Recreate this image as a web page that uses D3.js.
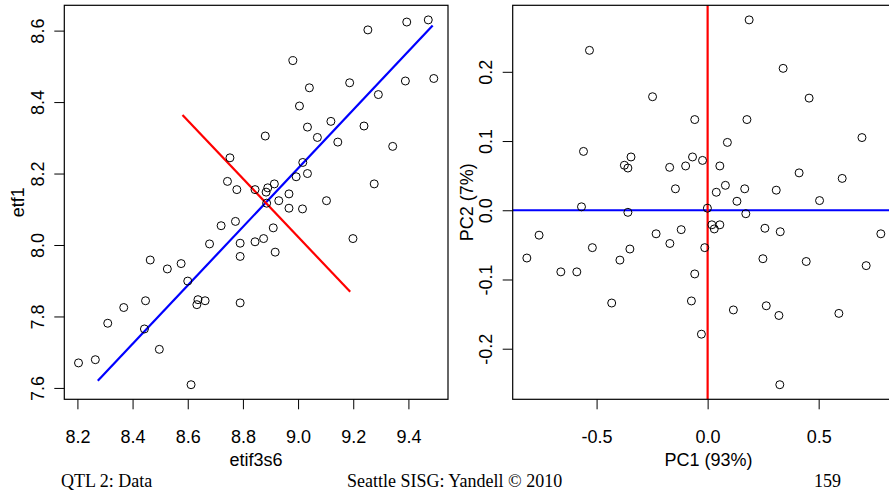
<!DOCTYPE html>
<html>
<head>
<meta charset="utf-8">
<script src="https://cdn.jsdelivr.net/npm/d3@7"></script>
<style>
  body { margin: 0; background: #fff; }
  svg { display: block; }
  text { font-family: "Liberation Sans", Arial, sans-serif; }
</style>
</head>
<body>
<script>
// raw data: etif3s6 vs etf1
var etif3s6 = [9.472, 9.394, 9.253, 8.981, 9.187, 9.389, 9.492, 9.041, 9.291, 9.005,
  9.119, 9.034, 9.239, 8.881, 9.070, 9.144, 9.343, 8.753, 9.017, 8.993,
  9.034, 9.276, 8.744, 8.778, 8.844, 8.890, 8.914, 8.884, 8.886, 8.930,
  8.967, 9.103, 8.967, 9.016, 8.773, 8.721, 8.910, 8.679, 8.790, 8.844,
  8.875, 8.790, 8.917, 9.199, 8.464, 8.576, 8.526, 8.600, 8.368, 8.447,
  8.637, 8.633, 8.663, 8.790, 8.310, 8.443, 8.497, 8.204, 8.265, 8.612];
var etf1 = [8.630, 8.624, 8.602, 8.516, 8.454, 8.459, 8.466, 8.440, 8.421, 8.389,
  8.346, 8.330, 8.333, 8.305, 8.301, 8.288, 8.276, 8.244, 8.231, 8.191,
  8.200, 8.171, 8.178, 8.155, 8.155, 8.160, 8.171, 8.148, 8.117, 8.124,
  8.143, 8.124, 8.103, 8.101, 8.066, 8.054, 8.048, 8.003, 8.005, 8.009,
  8.018, 7.968, 7.980, 8.018, 7.958, 7.948, 7.933, 7.899, 7.825, 7.844,
  7.847, 7.833, 7.844, 7.838, 7.781, 7.765, 7.708, 7.670, 7.679, 7.609];

// principal axes drawn on the raw data
var pc1Seg = [[8.274, 7.620], [9.488, 8.614]];
var pc2Seg = [[8.581, 8.364], [9.189, 7.869]];

// PC scores
var pc1 = [-0.532, -0.248, -0.559, -0.375, -0.359, -0.345, -0.171, -0.099, -0.145, -0.568,
  -0.359, 0.187, 0.340, 0.457, -0.058, 0.177, 0.695, 0.089, -0.068, -0.023,
  0.055, 0.412, 0.606, 0.039, 0.080, 0.167, 0.309, 0.132, 0.504, -0.001,
  0.172, -0.814, -0.759, -0.661, -0.589, -0.519, -0.395, -0.350, -0.432, -0.232,
  -0.170, -0.119, 0.019, 0.030, 0.055, 0.258, 0.327, 0.780, -0.013, 0.249,
  0.444, 0.714, -0.058, -0.073, 0.116, 0.264, 0.321, 0.591, -0.028, 0.325];
var pc2 = [0.231, 0.164, 0.085, 0.065, 0.061, 0.077, 0.062, 0.064, 0.031, 0.005,
  -0.003, 0.275, 0.205, 0.162, 0.131, 0.131, 0.105, 0.098, 0.077, 0.072,
  0.064, 0.054, 0.046, 0.026, 0.036, 0.031, 0.029, 0.013, 0.014, 0.003,
  -0.005, -0.069, -0.036, -0.089, -0.089, -0.054, -0.072, -0.056, -0.134, -0.034,
  -0.048, -0.028, -0.021, -0.027, -0.021, -0.026, -0.031, -0.034, -0.054, -0.070,
  -0.074, -0.080, -0.092, -0.131, -0.144, -0.138, -0.152, -0.149, -0.179, -0.252];

var leftXTicks = [8.2, 8.4, 8.6, 8.8, 9.0, 9.2, 9.4];
var leftYTicks = [7.6, 7.8, 8.0, 8.2, 8.4, 8.6];
var rightXTicks = [-0.5, 0.0, 0.5];
var rightYTicks = [-0.2, -0.1, 0.0, 0.1, 0.2];

var width = 889,
  height = 493;

var svg = d3.select('body').append("svg")
  .attr("width", width)
  .attr("height", height);

// R style range: data extent padded 4% each side
function rRange(v) {
  var e = d3.extent(v), pad = (e[1] - e[0]) * 0.04;
  return [e[0] - pad, e[1] + pad];
}

function fmt(d) {
  return d3.format(".1f")(d).replace("−", "-");
}

function panel(opt) {
  var x = d3.scaleLinear().domain(rRange(opt.xs)).range([opt.left, opt.right]);
  var y = d3.scaleLinear().domain(rRange(opt.ys)).range([opt.bottom, opt.top]);

  var g = svg.append("g");

  // lines first, points on top
  opt.lines(g, x, y);

  g.selectAll("circle.pt")
    .data(opt.xs)
    .enter().append("circle")
    .attr("class", "pt")
    .attr("cx", function(d) { return x(d); })
    .attr("cy", function(d, i) { return y(opt.ys[i]); })
    .attr("r", 4)
    .style("fill", "none")
    .style("stroke", "black")
    .style("stroke-width", "1px");

  g.append("rect")
    .attr("x", opt.left)
    .attr("y", opt.top)
    .attr("width", opt.right - opt.left)
    .attr("height", opt.bottom - opt.top)
    .style("fill", "none")
    .style("stroke", "black")
    .style("stroke-width", "1.2px");

  var xAxis = d3.axisBottom(x)
    .tickValues(opt.xTicks)
    .tickSize(10)
    .tickSizeOuter(0)
    .tickFormat(fmt);

  var gx = g.append("g")
    .attr("transform", "translate(0," + opt.bottom + ")")
    .call(xAxis);
  gx.select(".domain").remove();
  gx.selectAll("line").style("stroke", "black");
  gx.selectAll("text")
    .attr("y", 44)
    .attr("dy", 0)
    .style("font-size", "18px")
    .style("fill", "black");

  var yAxis = d3.axisLeft(y)
    .tickValues(opt.yTicks)
    .tickSize(10)
    .tickSizeOuter(0)
    .tickFormat(fmt);

  var gy = g.append("g")
    .attr("transform", "translate(" + opt.left + ",0)")
    .call(yAxis);
  gy.select(".domain").remove();
  gy.selectAll("line").style("stroke", "black");
  gy.selectAll("text")
    .attr("x", 0)
    .attr("dy", 0)
    .attr("transform", "translate(-20.5,0) rotate(-90)")
    .style("text-anchor", "middle")
    .style("font-size", "18px")
    .style("fill", "black");

  // axis titles
  g.append("text")
    .attr("x", opt.xTitleX)
    .attr("y", 466)
    .style("text-anchor", "middle")
    .style("font-size", "18px")
    .text(opt.xTitle);

  var midY = (opt.top + opt.bottom) / 2;
  g.append("text")
    .attr("transform", "translate(" + opt.yTitleX + "," + midY + ") rotate(-90)")
    .style("text-anchor", "middle")
    .style("font-size", "18px")
    .text(opt.yTitle);
}

function seg(g, x, y, pts, color) {
  g.append("line")
    .attr("x1", x(pts[0][0])).attr("y1", y(pts[0][1]))
    .attr("x2", x(pts[1][0])).attr("y2", y(pts[1][1]))
    .style("stroke", color)
    .style("stroke-width", "2.2px");
}

panel({
  xs: etif3s6, ys: etf1,
  left: 64.3, right: 448, top: 5.3, bottom: 399.3,
  xTicks: leftXTicks, yTicks: leftYTicks,
  xTitle: "etif3s6", yTitle: "etf1",
  xTitleX: 256, yTitleX: 24,
  lines: function(g, x, y) {
    seg(g, x, y, pc1Seg, "#0000ff");
    seg(g, x, y, pc2Seg, "#ff0000");
  }
});

panel({
  xs: pc1, ys: pc2,
  left: 512.7, right: 895, top: 5.3, bottom: 399.3,
  xTicks: rightXTicks, yTicks: rightYTicks,
  xTitle: "PC1 (93%)", yTitle: "PC2 (7%)",
  xTitleX: 708.5, yTitleX: 473,
  lines: function(g, x, y) {
    g.append("line")
      .attr("x1", x.range()[0]).attr("x2", x.range()[1])
      .attr("y1", y(0)).attr("y2", y(0))
      .style("stroke", "#0000ff")
      .style("stroke-width", "2.2px");
    g.append("line")
      .attr("x1", x(0)).attr("x2", x(0))
      .attr("y1", y.range()[0]).attr("y2", y.range()[1])
      .style("stroke", "#ff0000")
      .style("stroke-width", "2.2px");
  }
});

// slide footer
var foot = svg.append("g")
  .style("font-family", "'Liberation Serif', 'Times New Roman', serif")
  .style("font-size", "18px");
foot.append("text").attr("x", 61).attr("y", 487)
  .style("font-family", "inherit").text("QTL 2: Data");
foot.append("text").attr("x", 347).attr("y", 487)
  .style("font-family", "inherit").text("Seattle SISG: Yandell \u00a9 2010");
foot.append("text").attr("x", 841).attr("y", 487)
  .style("font-family", "inherit")
  .style("text-anchor", "end").text("159");
</script>
</body>
</html>
